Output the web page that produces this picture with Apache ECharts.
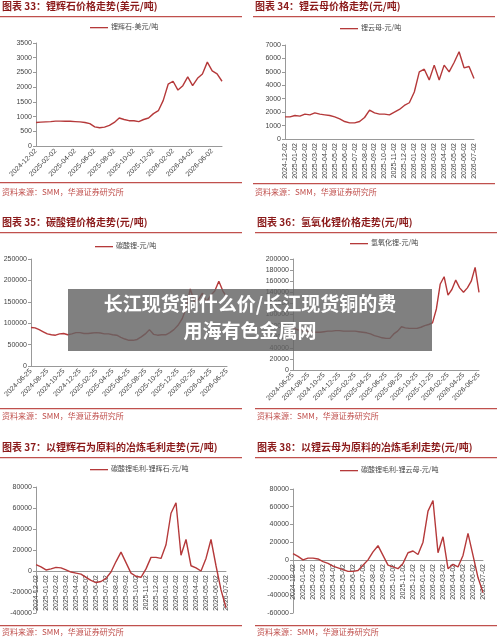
<!DOCTYPE html>
<html><head><meta charset="utf-8">
<script src="https://cdn.jsdelivr.net/npm/echarts@6/dist/echarts.min.js"></script>
<style>html,body{margin:0;padding:0;background:#fff}#c{width:500px;height:641px}</style>
</head><body><div id="c"></div>
<script>
const datesA = ["2024-12-02","2024-12-17","2025-01-02","2025-01-17","2025-02-02","2025-02-17","2025-03-02","2025-03-17","2025-04-02","2025-04-17","2025-05-02","2025-05-17","2025-06-02","2025-06-17","2025-07-02","2025-07-17","2025-08-02","2025-08-17","2025-09-02","2025-09-17","2025-10-02","2025-10-17","2025-11-02","2025-11-17","2025-12-02","2025-12-17","2026-01-02","2026-01-17","2026-02-02","2026-02-17","2026-03-02","2026-03-17","2026-04-02","2026-04-17","2026-05-02","2026-05-17","2026-06-02","2026-06-17","2026-07-02"];
const datesB = ["2024-06-25","2024-07-10","2024-07-25","2024-08-10","2024-08-25","2024-09-10","2024-09-25","2024-10-10","2024-10-25","2024-11-10","2024-11-25","2024-12-10","2024-12-25","2025-01-10","2025-01-25","2025-02-10","2025-02-25","2025-03-10","2025-03-25","2025-04-10","2025-04-25","2025-05-10","2025-05-25","2025-06-10","2025-06-25","2025-07-10","2025-07-25","2025-08-10","2025-08-25","2025-09-10","2025-09-25","2025-10-10","2025-10-25","2025-11-10","2025-11-25","2025-12-10","2025-12-25","2026-01-10","2026-01-25","2026-02-10","2026-02-25","2026-03-10","2026-03-25","2026-04-10","2026-04-25","2026-05-10","2026-05-25","2026-06-10","2026-06-25"];
const spodumene = [800,810,820,830,845,845,840,840,830,820,800,760,650,620,640,700,800,950,900,860,860,830,900,950,1100,1200,1550,2100,2200,1900,2050,2350,2050,2300,2450,2850,2550,2450,2200];
const lepidolite = [1650,1650,1750,1700,1850,1800,1950,1850,1800,1750,1650,1500,1300,1200,1200,1300,1600,2150,1950,1850,1850,1800,2000,2200,2500,2700,3500,5000,5200,4400,5500,4400,5500,5000,5700,6500,5300,5400,4500];
const carbonate = [90000,89000,85000,80000,75000,73000,72000,75000,76000,73000,75000,78000,78000,76000,76000,77000,78000,77000,75000,75000,73000,72000,67000,63000,60000,60000,62000,68000,75000,85000,74000,72000,73000,73000,78000,85000,95000,110000,135000,180000,150000,155000,170000,150000,165000,175000,198000,175000,160000];
const hydroxide = [75000,73000,71000,70000,69000,68000,68000,68000,69000,70000,70000,71000,71000,70000,70000,70000,70000,69000,68000,67000,65000,62000,60000,58000,57000,57000,65000,70000,78000,76000,75000,75000,75000,77000,80000,82000,85000,110000,155000,168000,135000,145000,162000,148000,140000,148000,160000,185000,140000];
const marginSpod = [6000,4000,1000,2000,3500,3000,1000,-1000,-2000,-3000,-6000,-9000,-11000,-10000,-7000,-1000,9000,18000,8000,-2000,-5000,-6000,2000,13000,13000,12000,25000,55000,65000,15000,30000,5000,3000,0,12000,30000,5000,-18000,-35000];
const marginLepi = [7000,4000,0,2000,2000,1000,-2000,-4000,-7000,-9000,-11000,-13000,-13000,-12000,-6000,0,9000,16000,5000,-6000,-8000,-10000,-4000,8000,10000,6000,20000,55000,67000,8000,26000,-10000,-5000,-8000,5000,30000,5000,-20000,-37000];

const titles = ["图表 33：锂辉石价格走势(美元/吨)","图表 34：锂云母价格走势(元/吨)","图表 35：碳酸锂价格走势(元/吨)","图表 36：氢氧化锂价格走势(元/吨)","图表 37：以锂辉石为原料的冶炼毛利走势(元/吨)","图表 38：以锂云母为原料的冶炼毛利走势(元/吨)"];
const names = ["锂辉石-美元/吨","锂云母-元/吨","碳酸锂-元/吨","氢氧化锂-元/吨","碳酸锂毛利-锂辉石-元/吨","碳酸锂毛利-锂云母-元/吨"];
const source = "资料来源：SMM，华源证券研究所";

const RED = '#b5393a';
const grids = [
  {left:36,top:43,width:186,height:103},
  {left:285,top:45,width:189,height:94},
  {left:31,top:259,width:196,height:107},
  {left:293,top:259,width:186,height:111},
  {left:36,top:487,width:190,height:126},
  {left:293,top:489,width:190,height:124}
];
const xd = [datesA,datesA,datesB,datesB,datesA,datesA];
const yd = [spodumene,lepidolite,carbonate,hydroxide,marginSpod,marginLepi];
const rot = [45,90,45,45,90,90];
const intv = [3,1,3,3,1,1];
const xoff = [0,0,0,0,-42,-53];
const yr = [[0,3500,500],[0,7000,1000],[0,250000,50000],[0,200000,20000],[-40000,80000,20000],[-60000,80000,20000]];
const blocks = [
  [0,7,125,27,182,193],[253,7,375,28,183,193],[0,223,130,246,408,417],[255,223,385,243,408,417],[0,448,125,469,625,633],[255,448,375,470,625,633]
];
const gfx = [];
blocks.forEach((b,i)=>{
  gfx.push({type:'text',left:b[0]+2,top:b[1]-6,style:{text:titles[i],fill:'#8b1a1a',font:'bold 10px "Noto Sans CJK SC"'}});
  gfx.push({type:'rect',shape:{x:b[0],y:b[1]+9,width:242,height:1.2},style:{fill:'#c0504d'}});
  gfx.push({type:'rect',shape:{x:b[2]-35,y:b[3],width:18,height:1.3},style:{fill:RED}});
  gfx.push({type:'text',x:b[2]-14,y:b[3]-4,style:{text:names[i],fill:'#444',font:'7px "Noto Sans CJK SC"'}});
  gfx.push({type:'rect',shape:{x:b[0],y:b[4],width:242,height:1.2},style:{fill:'#c0504d'}});
  gfx.push({type:'text',x:b[0]+2,y:b[5]-5,style:{text:source,fill:'#c0504d',font:'8px "Noto Sans CJK SC"'}});
});
gfx.push({type:'rect',z:100,shape:{x:68,y:289,width:364,height:62},style:{fill:'rgba(100,100,100,0.82)'}});
gfx.push({type:'text',z:101,x:250,y:304,style:{text:'长江现货铜什么价/长江现货铜的费',fill:'#fff',font:'bold 19px "Noto Sans CJK SC"',align:'center',verticalAlign:'middle'}});
gfx.push({type:'text',z:101,x:250,y:331,style:{text:'用海有色金属网',fill:'#fff',font:'bold 19px "Noto Sans CJK SC"',align:'center',verticalAlign:'middle'}});

const option = {
  animation:false,
  grid: grids,
  xAxis: grids.map((g,i)=>({type:'category',gridIndex:i,data:xd[i],boundaryGap:false,
    offset:xoff[i],
    axisLine:{onZero:xoff[i]===0,lineStyle:{color:'#999'}},axisTick:{show:false},
    axisLabel:{rotate:rot[i],interval:intv[i],fontSize:7,color:'#444',margin:4}})),
  yAxis: grids.map((g,i)=>({type:'value',gridIndex:i,min:yr[i][0],max:yr[i][1],interval:yr[i][2],
    splitLine:{show:false},axisLine:{show:true,lineStyle:{color:'#999'}},axisTick:{show:true,length:3,lineStyle:{color:'#999'}},
    axisLabel:{fontSize:7,color:'#444',margin:4,formatter:v=>String(v)}})),
  series: yd.map((d,i)=>({type:'line',name:names[i],xAxisIndex:i,yAxisIndex:i,data:d,showSymbol:false,
    lineStyle:{color:RED,width:1.4},itemStyle:{color:RED}})),
  graphic: gfx
};
const ch = echarts.init(document.getElementById('c'));
ch.setOption(option);
</script></body></html>
